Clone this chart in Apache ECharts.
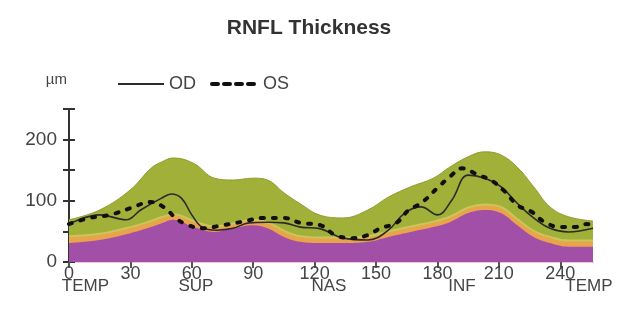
<!DOCTYPE html>
<html><head><meta charset="utf-8">
<script src="https://cdn.jsdelivr.net/npm/echarts@6/dist/echarts.min.js"></script>
<style>html,body{margin:0;padding:0;background:#fff}#c{width:618px;height:321px}</style>
</head><body><div id="c"></div>
<script>
// Normative band boundaries (degrees, µm)
var bandX = [0,15,30,40,45,51,61,71,80,90,97,105,113,123,134,146,156,167,178,186,195,203,211,219,227,235,244,256];
var p95   = [69,85,118,153,163,170,161,137,134,137,134,113,95,76,72,85,106,123,137,155,172,180,175,155,123,90,74,67];
var p5    = [42,46,57,67,73,78,67,58,63,69,65,51,42,40,40,42,50,58,66,74,89,94,90,70,51,41,35,35];
var p1    = [31,36,47,57,63,69,57,49,55,60,55,41,33,31,31,33,41,49,57,65,80,85,80,60,41,31,25,25];
// Measured curves
var odX = [0,15,28,35,45,50,55,60,65,72,80,88,97,105,113,122,134,146,156,164,172,180,187,195,203,211,219,227,235,244,256];
var odY = [62,77,69,85,104,111,104,77,57,52,55,64,65,64,57,55,39,36,52,80,90,77,101,142,137,123,96,72,55,49,55];
var osX = [0,10,20,30,40,47,52,57,65,75,85,95,105,113,123,130,138,146,152,160,166,172,180,186,192,200,206,213,219,226,232,240,247,253,256];
var osY = [62,72,77,88,98,88,72,62,55,60,66,72,72,64,60,44,39,44,55,64,85,96,121,139,153,142,134,115,93,82,66,57,57,62,60];
// Axis labels
var xTicks = [0,30,60,90,120,150,180,210,240];
var regionPos = [8,62,127,192,254];
var regionNames = ['TEMP','SUP','NAS','INF','TEMP'];
var yLabels = [0,100,200];

function pairs(xs, ys){ return xs.map(function(x,i){ return [x, ys[i]]; }); }

var font = '"Liberation Sans Narrow","Liberation Sans",Arial,sans-serif';
var chart = echarts.init(document.getElementById('c'), null, {renderer:'canvas'});
chart.setOption({
  animation:false,
  title:{text:'RNFL Thickness', left:'center', top:13, textStyle:{fontFamily:font, fontSize:21, fontWeight:'bold', color:'#333'}},
  legend:{left:112, top:70, itemWidth:46, itemHeight:10, itemGap:14,
    data:[
      {name:'OD', lineStyle:{width:2, color:'#2b2b2b'}},
      {name:'OS', lineStyle:{width:4, color:'#111', type:[6,6]}}
    ],
    itemStyle:{opacity:0},
    textStyle:{fontFamily:font, fontSize:18, color:'#444'}},
  grid:{left:69, right:25, top:109, bottom:59},
  xAxis:[
    {type:'value', min:0, max:256, interval:30,
     axisLine:{show:true, lineStyle:{color:'#f2c6d8', width:2}},
     axisTick:{show:true, length:6, lineStyle:{color:'#555', width:2}, customValues:xTicks},
     axisLabel:{fontFamily:font, fontSize:18, color:'#444', margin:3, customValues:xTicks},
     splitLine:{show:false}},
    {type:'value', min:0, max:256, position:'bottom', offset:12,
     axisLine:{show:false}, axisTick:{show:false}, splitLine:{show:false},
     axisLabel:{fontFamily:font, fontSize:17, color:'#444', margin:4, customValues:regionPos,
       formatter:function(v){ var i = regionPos.indexOf(v); return i>=0 ? regionNames[i] : ''; }}}
  ],
  yAxis:[
    {type:'value', min:0, max:250, interval:50, name:'µm', nameLocation:'end', nameGap:22,
     nameTextStyle:{fontFamily:font, fontSize:15, color:'#444', align:'right', padding:[0,2,0,0]},
     axisLine:{show:true, lineStyle:{color:'#333', width:2}},
     axisTick:{show:true, length:6, lineStyle:{color:'#333', width:2}},
     axisLabel:{fontFamily:font, fontSize:19, color:'#444', margin:12,
       formatter:function(v){ return yLabels.indexOf(v)>=0 ? String(v) : ''; }},
     splitLine:{show:false}},
    {type:'value', min:0, max:250, interval:50, position:'left',
     axisLine:{show:false}, axisTick:{show:true, inside:true, length:6, lineStyle:{color:'#333', width:2}},
     axisLabel:{show:false}, splitLine:{show:false}}
  ],
  series:[
    {name:'p95', type:'line', data:pairs(bandX,p95), smooth:0.4, symbol:'none', z:1,
     lineStyle:{width:1, color:'#8f9d30'}, areaStyle:{color:'#a0b038', opacity:1}},
    {name:'p5', type:'line', data:pairs(bandX,p5), smooth:0.4, symbol:'none', z:2,
     lineStyle:{width:2, color:'#c9c65a'}, areaStyle:{color:'#e9a34a', opacity:1}},
    {name:'p1', type:'line', data:pairs(bandX,p1), smooth:0.4, symbol:'none', z:3,
     lineStyle:{width:0}, areaStyle:{color:'#a24fa8', opacity:1}},
    {name:'OD', type:'line', data:pairs(odX,odY), smooth:0.4, symbol:'none', z:5,
     itemStyle:{color:'#2b2b2b'}, lineStyle:{width:1.6, color:'#2b2b2b'}},
    {name:'OS', type:'line', data:pairs(osX,osY), smooth:0.4, symbol:'none', z:6,
     itemStyle:{color:'#111'}, lineStyle:{width:4, color:'#111', type:[3,9], cap:'round'}}
  ]
});
</script></body></html>
